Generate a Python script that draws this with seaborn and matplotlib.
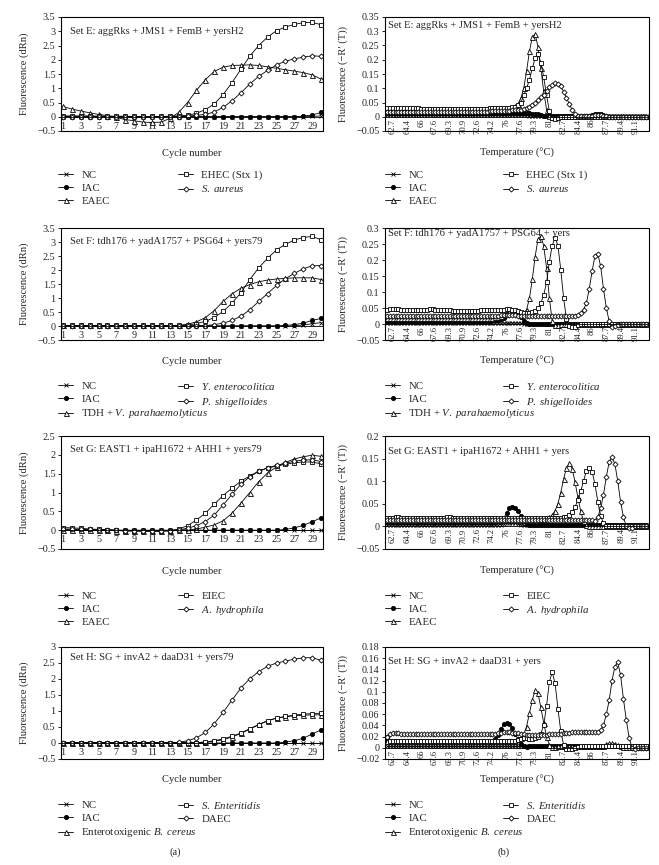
import numpy as np
import matplotlib
matplotlib.use("Agg")
import matplotlib.pyplot as plt
import seaborn as sns
from matplotlib.patches import Rectangle

# ---------------- data ----------------
cycles = list(range(1, 31))
cycle_ticks = [1, 3, 5, 7, 9, 11, 13, 15, 17, 19, 21, 23, 25, 27, 29]
# melt-curve temperature steps (deg C), instrument grid
temps = np.round(62 + np.arange(92) / 3, 2)
temp_ticks = [62.7, 64.4, 66, 67.6, 69.3, 70.9, 72.6, 74.2, 76, 77.6, 79.3, 81, 82.7, 84.4, 86, 87.7, 89.4, 91.1]
temp_tick_labels = ["62.7", "64.4", "66", "67.6", "69.3", "70.9", "72.6", "74.2", "76", "77.6",
                    "79.3", "81", "82.7", "84.4", "86", "87.7", "89.4", "91.1"]

titles_a = ["Set E: aggRks + JMS1 + FemB + yersH2", "Set F: tdh176 + yadA1757 + PSG64 + yers79",
            "Set G: EAST1 + ipaH1672 + AHH1 + yers79", "Set H: SG + invA2 + daaD31 + yers79"]
titles_b = ["Set E: aggRks + JMS1 + FemB + yersH2", "Set F: tdh176 + yadA1757 + PSG64 + yers",
            "Set G: EAST1 + ipaH1672 + AHH1 + yers", "Set H: SG + invA2 + daaD31 + yers"]

legend_E = ["NC", "IAC", "EAEC", "EHEC (Stx 1)", r"$\mathit{S.\ aureus}$"]
legend_F = ["NC", "IAC", r"TDH + $\mathit{V.\ parahaemolyticus}$", r"$\mathit{Y.\ enterocolitica}$", r"$\mathit{P.\ shigelloides}$"]
legend_G = ["NC", "IAC", "EAEC", "EIEC", r"$\mathit{A.\ hydrophila}$"]
legend_H = ["NC", "IAC", r"Enterotoxigenic $\mathit{B.\ cereus}$", r"$\mathit{S.\ Enteritidis}$", "DAEC"]

# ---- amplification (dRn) ----
E_NC = [0, 0, 0, 0, 0, 0, 0, 0, 0, 0, 0, 0, 0, 0, 0, 0, 0, 0, 0, 0, 0, 0, 0, 0, 0, 0, 0, 0.0, 0.01, 0.03]
E_IAC = [0, 0, 0, 0, 0, 0, 0, 0, 0, 0, 0, 0, 0, 0, 0, 0, 0, 0, 0, 0, 0, 0, 0, 0, 0, 0, 0, 0.02, 0.06, 0.15]
E_EAEC = [0.36, 0.27, 0.20, 0.14, 0.08, 0.04, -0.02, -0.10, -0.14, -0.19, -0.20, -0.19, -0.06, 0.15, 0.50,
          0.93, 1.30, 1.59, 1.74, 1.80, 1.81, 1.82, 1.80, 1.75, 1.70, 1.65, 1.60, 1.55, 1.47, 1.32]
E_EHEC = [0.03, 0.03, 0.03, 0.03, 0.02, 0.02, 0.02, 0.02, 0.01, 0.01, 0.01, 0.01, 0.02, 0.03, 0.05,
          0.12, 0.25, 0.45, 0.78, 1.20, 1.67, 2.13, 2.50, 2.80, 3.02, 3.15, 3.24, 3.30, 3.31, 3.23]
E_SA = [0, 0, 0, 0, 0, 0, 0, 0, 0, 0, 0, 0, 0, 0, 0.02, 0.05, 0.08, 0.17, 0.33, 0.56,
        0.84, 1.15, 1.42, 1.63, 1.82, 1.95, 2.03, 2.09, 2.14, 2.12]

F_NC = [0, 0, 0, 0, 0, 0, 0, 0, 0, 0, 0, 0, 0, 0, 0, 0, 0, 0, 0, 0, 0, 0, 0, 0, 0, 0, 0, 0.04, 0.08, 0.12]
F_IAC = [0, 0, 0, 0, 0, 0, 0, 0, 0, 0, 0, 0, 0, 0, 0, 0, 0, 0, 0, 0, 0, 0, 0, 0, 0, 0.02, 0.05, 0.10, 0.20, 0.27]
F_TDH = [0.02, 0.02, 0.02, 0.02, 0.02, 0.02, 0.02, 0.02, 0.02, 0.02, 0.02, 0.02, 0.02, 0.02, 0.06,
         0.15, 0.30, 0.55, 0.88, 1.15, 1.35, 1.48, 1.58, 1.64, 1.68, 1.70, 1.72, 1.72, 1.72, 1.66]
F_YE = [0.02, 0.02, 0.02, 0.02, 0.02, 0.02, 0.02, 0.02, 0.02, 0.02, 0.02, 0.02, 0.02, 0.02, 0.04,
        0.08, 0.17, 0.30, 0.52, 0.82, 1.19, 1.66, 2.08, 2.42, 2.72, 2.92, 3.07, 3.16, 3.20, 3.08]
F_PS = [0.01, 0.01, 0.01, 0.01, 0.01, 0.01, 0.01, 0.01, 0.01, 0.01, 0.01, 0.01, 0.01, 0.01, 0.01,
        0.01, 0.01, 0.05, 0.10, 0.20, 0.35, 0.58, 0.88, 1.16, 1.45, 1.69, 1.88, 2.04, 2.15, 2.16]

G_NC = [0, 0, 0, 0, 0, 0, 0, 0, 0, 0, 0, 0, 0, 0, 0, 0, 0, 0, 0, 0, 0, 0, 0, 0, 0, 0, 0, 0, 0, 0]
G_IAC = [0, 0, 0, 0, 0, 0, 0, 0, 0, 0, 0, 0, 0, 0, 0, 0, 0, 0, 0, 0, 0, 0, 0, 0, 0, 0.02, 0.06, 0.13, 0.22, 0.33]
G_EAEC = [0.01, 0.01, 0.01, 0.0, 0.0, 0.0, -0.01, -0.02, -0.02, -0.02, -0.02, -0.02, -0.01, 0.0, 0.01,
          0.03, 0.08, 0.14, 0.25, 0.45, 0.72, 1.00, 1.29, 1.52, 1.68, 1.80, 1.89, 1.95, 1.99, 1.96]
G_EIEC = [0.07, 0.06, 0.05, 0.03, 0.02, 0.01, 0.0, -0.02, -0.02, -0.03, -0.03, -0.03, -0.02, 0.03, 0.12,
          0.27, 0.45, 0.69, 0.92, 1.12, 1.30, 1.44, 1.57, 1.65, 1.70, 1.75, 1.79, 1.81, 1.81, 1.76]
G_AH = [0.03, 0.03, 0.02, 0.02, 0.01, 0.01, 0.0, -0.01, -0.01, -0.02, -0.02, -0.02, -0.01, 0.01, 0.05,
        0.12, 0.23, 0.40, 0.67, 0.95, 1.22, 1.42, 1.56, 1.66, 1.72, 1.78, 1.83, 1.86, 1.87, 1.82]

H_NC = [0, 0, 0, 0, 0, 0, 0, 0, 0, 0, 0, 0, 0, 0, 0, 0, 0, 0, 0, 0, 0, 0, 0, 0, 0, 0, 0, 0, 0, 0]
H_IAC = [0, 0, 0, 0, 0, 0, 0, 0, 0, 0, 0, 0, 0, 0, 0, 0, 0, 0, 0, 0, 0, 0, 0, 0, 0, 0.03, 0.07, 0.15, 0.28, 0.41]
H_BC = [0.01, 0.01, 0.01, 0.01, 0.01, 0.01, 0.01, 0.01, 0.01, 0.01, 0.01, 0.01, 0.01, 0.01, 0.01,
        0.01, 0.03, 0.06, 0.10, 0.19, 0.30, 0.43, 0.58, 0.70, 0.78, 0.82, 0.85, 0.87, 0.88, 0.88]
H_SE = [0.01, 0.01, 0.01, 0.01, 0.01, 0.01, 0.01, 0.01, 0.01, 0.01, 0.01, 0.01, 0.01, 0.01, 0.01,
        0.01, 0.03, 0.07, 0.13, 0.21, 0.31, 0.45, 0.57, 0.69, 0.78, 0.83, 0.87, 0.90, 0.92, 0.93]
H_DAEC = [0.01, 0.01, 0.01, 0.01, 0.01, 0.01, 0.01, 0.01, 0.01, 0.01, 0.01, 0.01, 0.01, 0.02, 0.07,
          0.16, 0.33, 0.60, 0.96, 1.34, 1.72, 2.01, 2.23, 2.40, 2.50, 2.56, 2.62, 2.66, 2.67, 2.58]

# ---- melt curves (-R'(T)) on the 92-step temperature grid ----
mE_NC = [.005, .005, .005, .005, .005, .005, .005, .005, .005, .005, .005, .005,
         .005, .005, .005, .005, .005, .005, .005, .005, .005, .005, .005, .005,
         .005, .005, .005, .005, .005, .005, .005, .005, .005, .005, .005, .005,
         .005, .005, .005, .005, .005, .005, .005, .005, .005, .005, .005, .005,
         .005, .005, .004, .004, .003, .003, .003, .002, .002, .002, .002, .002,
         .002, .002, .002, .002, .002, .002, .002, .002, .002, .002, .002, .002,
         .002, .002, .002, .002, .002, .002, .002, .002, .002, .002, .002, .002,
         .001, .001, .001, .001, .001, .001, .001, .001]
mE_IAC = [.012, .012, .012, .012, .012, .012, .012, .012, .012, .012, .012, .012,
          .012, .012, .012, .012, .012, .012, .012, .012, .012, .012, .012, .012,
          .012, .012, .012, .012, .012, .012, .012, .012, .012, .012, .012, .012,
          .012, .012, .012, .012, .012, .012, .012, .012, .012, .012, .012, .012,
          .012, .012, .012, .011, .010, .008, .006, .004, .003, .003, .003, .003,
          .003, .003, .003, .003, .003, .003, .003, .003, .003, .003, .003, .003,
          .005, .009, .011, .010, .006, .002, .000, .000, .000, .000, .000, .000,
          .000, .000, .000, .000, .000, .000, .000, .000]
mE_EAEC = [.028, .027, .026, .026, .026, .026, .026, .026, .026, .026, .026, .026,
           .026, .026, .026, .026, .026, .026, .026, .026, .026, .026, .026, .026,
           .026, .026, .026, .026, .026, .026, .026, .026, .026, .026, .026, .026,
           .027, .027, .027, .028, .028, .028, .028, .030, .032, .036, .045, .065,
           .100, .160, .230, .280, .290, .245, .170, .090, .025, .003, .000, .000,
           .001, .001, .001, .001, .001, .001, .001, .001, .001, .001, .001, .001,
           .001, .001, .001, .001, .001, .001, .001, .001, .001, .001, .001, .001,
           .001, .001, .001, .001, .001, .001, .001, .001]
mE_EHEC = [.030, .031, .031, .031, .031, .030, .030, .030, .030, .030, .030, .030,
           .028, .028, .028, .028, .028, .028, .028, .028, .028, .028, .028, .028,
           .028, .028, .028, .028, .028, .028, .028, .028, .028, .028, .028, .028,
           .029, .029, .030, .030, .030, .030, .031, .032, .033, .035, .040, .050,
           .075, .100, .130, .170, .205, .220, .190, .140, .075, .020, -.005, -.008,
           -.005, -.002, .000, .000, .000, .000, .000, .000, .000, .000, .000, .000,
           .000, .000, .000, .000, .000, .000, .000, .000, .000, .000, .000, .000,
           .000, .000, .000, .000, .000, .000, .000, .000]
mE_SA = [.018, .018, .018, .018, .018, .018, .018, .018, .018, .018, .018, .018,
         .018, .018, .018, .018, .018, .018, .018, .018, .018, .018, .018, .018,
         .018, .018, .018, .018, .018, .018, .018, .018, .018, .018, .018, .018,
         .020, .020, .020, .020, .020, .020, .021, .021, .022, .022, .023, .025,
         .027, .030, .035, .042, .050, .060, .068, .077, .090, .103, .112, .117,
         .116, .107, .088, .066, .045, .023, .010, .004, .002, .002, .002, .002,
         .003, .005, .007, .006, .004, .002, -.002, -.002, -.002, -.002, -.002, -.002,
         -.002, -.002, -.002, -.002, -.002, -.002, -.002, -.002]

mF_NC = [.003, .003, .003, .003, .003, .003, .003, .003, .003, .003, .003, .003,
         .003, .003, .003, .003, .003, .003, .003, .003, .003, .003, .003, .003,
         .003, .003, .003, .003, .003, .003, .003, .003, .003, .003, .003, .003,
         .003, .003, .003, .003, .003, .003, .003, .003, .003, .003, .003, .003,
         .001, .001, .001, .001, .001, .001, .001, .001, .001, .001, .001, .001,
         .001, .001, .001, .001, .001, .001, .001, .001, .001, .001, .001, .001,
         .001, .001, .001, .001, .001, .001, .001, .001, .001, .001, .001, .001,
         .001, .001, .001, .001, .001, .001, .001, .001]
mF_IAC = [.010, .010, .010, .010, .010, .010, .010, .010, .010, .010, .010, .010,
          .010, .010, .010, .010, .010, .010, .010, .010, .010, .010, .010, .010,
          .010, .010, .010, .010, .010, .010, .010, .010, .010, .010, .010, .010,
          .010, .011, .011, .012, .015, .020, .028, .035, .040, .040, .033, .022,
          .010, .004, .001, .000, .000, .000, .000, .000, .000, .000, .000, .000,
          .000, .000, .000, .000, .000, .000, .000, .000, .000, .000, .000, .000,
          .000, .000, .000, .000, .000, .000, .000, .000, .000, .000, .000, .000,
          .000, .000, .000, .000, .000, .000, .000, .000]
mF_TDH = [.020, .020, .020, .020, .020, .020, .020, .020, .020, .020, .020, .020,
          .020, .020, .020, .020, .020, .020, .020, .020, .020, .020, .020, .020,
          .020, .020, .020, .020, .020, .020, .020, .020, .020, .020, .020, .020,
          .020, .020, .021, .022, .026, .030, .034, .036, .036, .034, .032, .030,
          .033, .045, .080, .140, .210, .265, .275, .245, .175, .080, .010, -.004,
          -.002, .000, .000, .000, .000, .000, .000, .000, .000, .000, .000, .000,
          .000, .000, .000, .000, .000, .000, .000, .000, .000, .000, .000, .000,
          .000, .000, .000, .000, .000, .000, .000, .000]
mF_YE = [.045, .047, .047, .046, .046, .045, .045, .044, .044, .043, .043, .043,
         .043, .044, .045, .046, .046, .045, .044, .043, .043, .043, .043, .042,
         .042, .042, .042, .042, .042, .042, .042, .042, .042, .043, .043, .043,
         .043, .043, .044, .044, .045, .045, .046, .046, .045, .044, .040, .037,
         .035, .033, .035, .038, .042, .050, .065, .090, .130, .195, .245, .270,
         .245, .170, .080, .015, -.005, -.010, -.008, -.004, -.001, .000, .000, .000,
         .000, .000, .000, .000, .000, .000, .000, .000, .000, .000, .000, .000,
         .000, .000, .000, .000, .000, .000, .000, .000]
mF_PS = [.025, .025, .025, .025, .025, .025, .025, .025, .025, .025, .025, .025,
         .025, .025, .025, .025, .025, .025, .025, .025, .025, .025, .025, .025,
         .025, .025, .025, .025, .025, .025, .025, .025, .025, .025, .025, .025,
         .025, .025, .025, .026, .027, .028, .028, .028, .028, .027, .026, .025,
         .025, .025, .025, .025, .025, .025, .025, .025, .025, .025, .025, .025,
         .025, .025, .025, .025, .025, .025, .026, .028, .033, .045, .065, .110,
         .165, .212, .220, .180, .110, .050, .008, -.008, -.006, -.002, .000, .000,
         .000, .000, .000, .000, .000, .000, .000, .000]

mG_NC = [.003, .003, .003, .003, .003, .003, .003, .003, .003, .003, .003, .003,
         .003, .003, .003, .003, .003, .003, .003, .003, .003, .003, .003, .003,
         .003, .003, .003, .003, .003, .003, .003, .003, .003, .003, .003, .003,
         .003, .003, .003, .003, .004, .006, .008, .008, .008, .007, .005, .004,
         .002, .002, .002, .002, .002, .002, .002, .002, .002, .002, .002, .002,
         .002, .002, .002, .002, .002, .002, .002, .002, .002, .002, .002, .002,
         .002, .002, .002, .002, .002, .002, .002, .002, .002, .002, .002, .002,
         .002, .002, .002, .002, .002, .002, .002, .002]
mG_IAC = [.010, .010, .010, .010, .010, .010, .010, .010, .010, .010, .010, .010,
          .010, .010, .010, .010, .010, .010, .010, .010, .010, .010, .010, .010,
          .010, .010, .010, .010, .010, .010, .010, .010, .010, .010, .010, .010,
          .010, .010, .010, .011, .013, .018, .030, .040, .044, .041, .033, .024,
          .015, .006, .002, .002, .002, .002, .002, .002, .002, .002, .002, .002,
          .002, .002, .002, .002, .002, .002, .002, .002, .002, .002, .002, .002,
          .002, .002, .002, .002, .002, .002, .002, .002, .002, .002, .002, .002,
          .002, .002, .002, .002, .002, .002, .002, .002]
mG_EAEC = [.015, .015, .015, .015, .015, .015, .015, .015, .015, .015, .015, .015,
           .015, .015, .015, .015, .015, .015, .015, .015, .015, .015, .015, .015,
           .015, .015, .015, .015, .015, .015, .015, .015, .015, .015, .015, .015,
           .015, .015, .015, .015, .015, .015, .015, .015, .015, .015, .015, .015,
           .015, .015, .015, .015, .015, .015, .016, .017, .018, .020, .025, .035,
           .050, .075, .105, .130, .140, .128, .098, .065, .033, .012, .003, .000,
           .000, .000, .000, .000, .000, .000, .000, .000, .000, .000, .000, .000,
           .000, .000, .000, .000, .000, .000, .000, .000]
mG_EIEC = [.018, .018, .019, .020, .020, .019, .018, .018, .018, .018, .018, .018,
           .018, .018, .018, .018, .018, .018, .018, .018, .019, .020, .020, .019,
           .018, .018, .018, .018, .018, .018, .018, .018, .018, .018, .018, .018,
           .018, .018, .018, .018, .018, .018, .018, .018, .018, .018, .018, .018,
           .018, .018, .018, .018, .018, .018, .018, .018, .018, .018, .018, .018,
           .018, .019, .020, .021, .025, .032, .043, .058, .078, .100, .123, .130,
           .121, .094, .055, .024, .007, .000, .000, .000, .000, .000, .000, .000,
           .000, .000, .000, .000, .000, .000, .000, .000]
mG_AH = [.015, .015, .015, .015, .015, .015, .015, .015, .015, .015, .015, .015,
         .015, .015, .015, .015, .015, .015, .015, .015, .015, .015, .015, .015,
         .015, .015, .015, .015, .015, .015, .015, .015, .015, .015, .015, .015,
         .015, .015, .015, .015, .015, .015, .015, .015, .015, .015, .015, .015,
         .015, .015, .015, .015, .015, .015, .015, .015, .015, .015, .015, .015,
         .015, .015, .015, .015, .015, .015, .014, .014, .014, .014, .014, .014,
         .014, .013, .020, .040, .070, .110, .143, .153, .138, .100, .055, .020,
         .001, -.004, -.003, .000, .000, .000, .000, .000]

mH_NC = [.003, .003, .003, .003, .003, .003, .003, .003, .003, .003, .003, .003,
         .003, .003, .003, .003, .003, .003, .003, .003, .003, .003, .003, .003,
         .003, .003, .003, .003, .003, .003, .003, .003, .003, .003, .003, .003,
         .003, .003, .003, .003, .003, .003, .003, .003, .003, .003, .003, .003,
         .003, .003, .003, .003, .003, .003, .003, .003, .003, .003, .003, .003,
         .003, .003, .003, .003, .003, .003, .003, .003, .003, .003, .003, .003,
         .003, .003, .003, .003, .003, .003, .003, .003, .003, .003, .003, .003,
         .003, .003, .003, .003, .003, .003, .003, .003]
mH_IAC = [.012, .012, .012, .012, .012, .012, .012, .012, .012, .012, .012, .012,
          .012, .012, .012, .012, .012, .012, .012, .012, .012, .012, .012, .012,
          .012, .012, .012, .012, .012, .012, .012, .012, .012, .012, .012, .012,
          .011, .012, .015, .022, .033, .042, .045, .043, .035, .025, .015, .007,
          .003, .002, .003, .003, .003, .003, .003, .003, .003, .003, .003, .003,
          .003, .003, .003, .003, .003, .003, .003, .003, .003, .003, .003, .003,
          .003, .003, .003, .003, .003, .003, .003, .003, .003, .003, .003, .003,
          .003, .003, .003, .003, .003, .003, .003, .003]
mH_BC = [.013, .013, .013, .013, .013, .013, .013, .013, .013, .013, .013, .013,
         .013, .013, .013, .013, .013, .013, .013, .013, .013, .013, .013, .013,
         .013, .013, .013, .013, .013, .013, .013, .013, .013, .013, .013, .013,
         .013, .013, .013, .013, .013, .013, .013, .013, .013, .013, .015, .018,
         .024, .038, .062, .085, .103, .097, .072, .045, .020, .005, .002, .002,
         .003, .003, .003, .003, .003, .003, .003, .003, .003, .003, .003, .003,
         .003, .003, .003, .003, .004, .006, .008, .008, .007, .005, .003, .002,
         .002, .002, .002, .002, .002, .002, .002, .002]
mH_SE = [.020, .012, .012, .012, .012, .012, .012, .012, .012, .012, .012, .012,
         .012, .012, .012, .012, .012, .012, .012, .012, .012, .012, .012, .012,
         .012, .012, .012, .012, .012, .012, .012, .012, .012, .012, .012, .012,
         .012, .012, .012, .012, .012, .012, .012, .012, .012, .013, .014, .016,
         .017, .017, .016, .016, .017, .020, .025, .040, .075, .118, .135, .115,
         .070, .030, .005, -.002, -.003, -.003, .000, .002, .003, .003, .003, .003,
         .003, .003, .003, .003, .003, .003, .003, .003, .003, .003, .003, .003,
         .003, .003, .003, .003, .003, .003, .003, .003]
mH_DAEC = [.020, .024, .026, .026, .026, .025, .025, .025, .025, .025, .025, .025,
           .025, .025, .025, .024, .024, .024, .024, .024, .024, .024, .025, .025,
           .025, .025, .024, .024, .024, .024, .024, .024, .024, .024, .025, .025,
           .025, .025, .025, .026, .027, .028, .028, .028, .027, .027, .026, .025,
           .024, .023, .022, .022, .022, .022, .022, .023, .023, .024, .024, .025,
           .025, .025, .026, .026, .027, .028, .028, .029, .029, .029, .028, .028,
           .028, .028, .028, .032, .040, .060, .085, .120, .145, .153, .130, .087,
           .050, .018, .000, -.003, -.001, .000, .000, .000]

amp_sets = [[E_NC, E_IAC, E_EAEC, E_EHEC, E_SA], [F_NC, F_IAC, F_TDH, F_YE, F_PS],
            [G_NC, G_IAC, G_EAEC, G_EIEC, G_AH], [H_NC, H_IAC, H_BC, H_SE, H_DAEC]]
melt_sets = [[mE_NC, mE_IAC, mE_EAEC, mE_EHEC, mE_SA], [mF_NC, mF_IAC, mF_TDH, mF_YE, mF_PS],
             [mG_NC, mG_IAC, mG_EAEC, mG_EIEC, mG_AH], [mH_NC, mH_IAC, mH_BC, mH_SE, mH_DAEC]]
legends = [legend_E, legend_F, legend_G, legend_H]
amp_ylims = [(-0.5, 3.5), (-0.5, 3.5), (-0.5, 2.5), (-0.5, 3.0)]
melt_ylims = [(-0.05, 0.35), (-0.05, 0.30), (-0.05, 0.20), (-0.02, 0.18)]
melt_steps = [0.05, 0.05, 0.05, 0.02]

for s in melt_sets:
    for v in s:
        assert len(v) == len(temps), len(v)
for s in amp_sets:
    for v in s:
        assert len(v) == len(cycles), len(v)

# ---------------- style ----------------
sns.set_theme(style="white")
plt.rcParams['font.family'] = ['Liberation Serif', 'DejaVu Serif']
plt.rcParams['mathtext.fontset'] = 'custom'
plt.rcParams['mathtext.rm'] = 'Liberation Serif'
plt.rcParams['mathtext.it'] = 'Liberation Serif:italic'
plt.rcParams['axes.unicode_minus'] = True

FS = 7.6     # titles / axis labels
LFS = 7.8    # legend
TS = 7.3     # tick labels
TSX = 6.2    # rotated temperature tick labels
W, H = 659, 865
fig = plt.figure(figsize=(W / 100, H / 100), dpi=100)


def fx(px):
    return px / W


def fy(py):
    return 1 - py / H


styles = [
    dict(marker='x', markersize=3.0, markerfacecolor='black'),
    dict(marker='o', markersize=3.0, markerfacecolor='black'),
    dict(marker='^', markersize=3.6, markerfacecolor='white'),
    dict(marker='s', markersize=3.2, markerfacecolor='white'),
    dict(marker='D', markersize=2.6, markerfacecolor='white'),
]


def fmt(v):
    v = round(float(v), 3) + 0.0
    return f"{v:g}".replace('-', '\u2212')


def make_ax(x0, x1, y0, y1):
    ax = fig.add_axes([fx(x0), fy(y1), (x1 - x0) / W, (y1 - y0) / H])
    for s in ['top', 'right', 'left']:
        ax.spines[s].set_visible(False)
    ax.spines['bottom'].set_position(('data', 0))
    ax.spines['bottom'].set_linewidth(0.6)
    ax.spines['bottom'].set_color('black')
    ax.add_patch(Rectangle((0, 0), 1, 1, transform=ax.transAxes, fill=False, lw=0.8,
                           ec='black', clip_on=False, zorder=6))
    return ax


def draw(ax, x, ys):
    hs = []
    for y, st in zip(ys, styles):
        sns.lineplot(x=x, y=y, ax=ax, color='black', linewidth=0.6, markeredgecolor='black',
                     markeredgewidth=0.6, errorbar=None, legend=False, **st)
        hs.append(ax.lines[-1])
    return hs


def legend(hs, labels, xc1, xc2, yrow):
    kw = dict(loc='upper left', frameon=False, fontsize=LFS, handlelength=1.4, handletextpad=0.75,
              labelspacing=0.33, borderpad=0, borderaxespad=0)
    fig.legend(hs[:3], labels[:3], bbox_to_anchor=(fx(xc1), fy(yrow - 7)), **kw)
    fig.legend(hs[3:], labels[3:], bbox_to_anchor=(fx(xc2), fy(yrow - 7)), **kw)


rows = [(17, 131), (228, 340), (436, 549), (647, 759)]
xlab_y = [153, 361, 571, 780]
leg_y = [177, 388, 598, 807]
title_a_y = [32, 242, 449, 658]
title_b_y = [25, 234, 452, 662]

for r in range(4):
    y0, y1 = rows[r]
    # ---------- (a) amplification ----------
    ax = make_ax(61, 323, y0, y1)
    hs = draw(ax, cycles, amp_sets[r])
    ax.set_xlim(0.78, 30.22)
    lo, hi = amp_ylims[r]
    ax.set_ylim(lo, hi)
    yt = np.arange(lo, hi + 0.25, 0.5)
    ax.set_yticks(yt, labels=[fmt(v) for v in yt])
    ax.set_xticks(cycle_ticks, labels=[str(c) for c in cycle_ticks])
    ax.tick_params(axis='x', length=0, pad=3.5, labelsize=TS, bottom=True)
    ax.tick_params(axis='y', length=2, width=0.6, pad=2, labelsize=TS, left=True, color='black')
    ax.set_xlabel('')
    ax.set_ylabel('Fluorescence (dRn)', fontsize=FS)
    ax.yaxis.set_label_coords(-32 / 262, 0.5)
    fig.text(fx(192), fy(xlab_y[r]), 'Cycle number', ha='center', va='center', fontsize=FS)
    fig.text(fx(70), fy(title_a_y[r]), titles_a[r], ha='left', va='center', fontsize=FS)
    legend(hs, legends[r], 58, 178, leg_y[r])

    # ---------- (b) melt curves ----------
    ax = make_ax(385, 649, y0, y1)
    hs = draw(ax, temps, melt_sets[r])
    ax.set_xlim(61.76, 92.66)
    lo, hi = melt_ylims[r]
    ax.set_ylim(lo, hi)
    st = melt_steps[r]
    yt = np.arange(lo, hi + st / 2, st)
    ax.set_yticks(yt, labels=[fmt(v) for v in yt])
    ax.set_xticks(temp_ticks, labels=temp_tick_labels, rotation=90)
    ax.tick_params(axis='x', length=0, pad=1.5, labelsize=TSX, bottom=True)
    ax.tick_params(axis='y', length=2, width=0.6, pad=2, labelsize=TS, left=True, color='black')
    ax.set_xlabel('')
    ax.set_ylabel('Fluorescence (\u2212R\u2032 (T))', fontsize=FS)
    ax.yaxis.set_label_coords(-37 / 264, 0.5)
    fig.text(fx(517), fy(xlab_y[r]), 'Temperature (\u00b0C)', ha='center', va='center', fontsize=FS)
    fig.text(fx(388), fy(title_b_y[r]), titles_b[r], ha='left', va='center', fontsize=FS)
    legend(hs, legends[r], 385, 503, leg_y[r])

fig.text(fx(175), fy(852), '(a)', ha='center', va='center', fontsize=FS)
fig.text(fx(504), fy(852), '(b)', ha='center', va='center', fontsize=FS)

fig.savefig('out.png', dpi=100, facecolor='white')
